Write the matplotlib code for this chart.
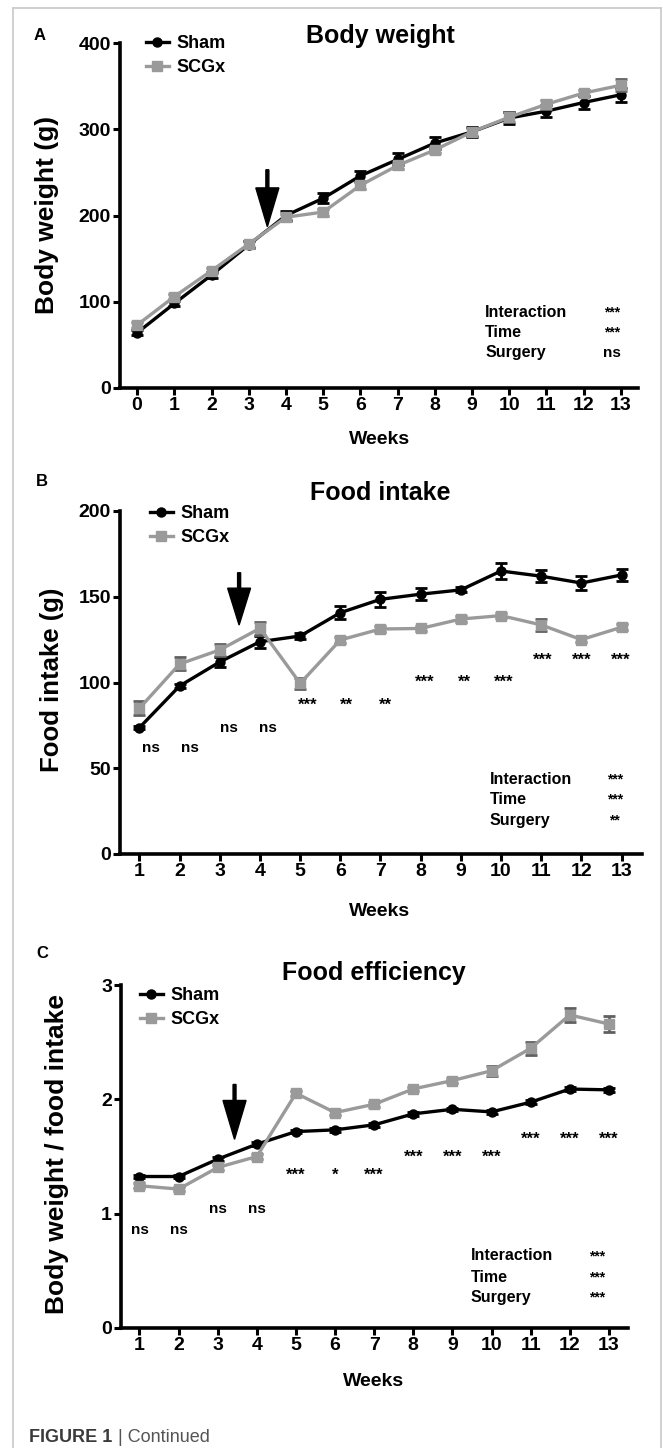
import matplotlib
matplotlib.use("Agg")
import matplotlib.pyplot as plt
from matplotlib.lines import Line2D

plt.rcParams['font.family'] = ['Liberation Sans', 'DejaVu Sans']
plt.rcParams['font.weight'] = 'bold'

# ---- data ----
weeks_a = list(range(0, 14))
bw_sham = [64, 98, 131, 166, 200, 220, 246, 265, 284, 297, 313, 321, 331, 340]
bw_sham_err = [3, 3, 3, 4, 5, 6, 6, 7, 7, 6, 7, 7, 8, 8]
bw_scgx = [73, 106, 136, 167, 198, 204, 235, 258, 276, 297, 314, 329, 342, 351]
bw_scgx_err = [3, 3, 3, 3, 4, 4, 4, 4, 4, 5, 6, 5, 4, 7]

weeks = list(range(1, 14))
fi_sham = [73.7, 98, 112, 123.8, 127.1, 140.7, 148.5, 151.5, 154, 165, 162, 158, 162.7]
fi_sham_err = [1, 1, 2.9, 3.4, 1.5, 3.7, 4.3, 3.5, 1.5, 4.5, 3.5, 4, 3.5]
fi_scgx = [85, 110.8, 119, 131.6, 99.5, 124.8, 131.2, 131.5, 137, 139, 133.6, 125, 132.2]
fi_scgx_err = [4.2, 3.8, 3.7, 3.9, 3.1, 1.5, 1.5, 1.5, 1.5, 1.5, 3.5, 1.5, 1.8]
fi_sig = ['ns', 'ns', 'ns', 'ns', '***', '**', '**', '***', '**', '***', '***', '***', '***']
fi_sig_y = [61.8, 61.8, 73.5, 73.5, 86.5, 86.5, 86.5, 100, 100, 100, 113, 113, 113]

fe_sham = [1.325, 1.325, 1.477, 1.608, 1.718, 1.733, 1.777, 1.873, 1.913, 1.89, 1.975, 2.09, 2.083]
fe_sham_err = [0.015, 0.015, 0.015, 0.015, 0.015, 0.015, 0.015, 0.015, 0.015, 0.015, 0.015, 0.015, 0.015]
fe_scgx = [1.244, 1.215, 1.404, 1.5, 2.053, 1.884, 1.957, 2.091, 2.164, 2.25, 2.446, 2.738, 2.659]
fe_scgx_err = [0.02, 0.02, 0.02, 0.025, 0.02, 0.02, 0.02, 0.02, 0.02, 0.045, 0.058, 0.061, 0.066]
fe_sig = ['ns', 'ns', 'ns', 'ns', '***', '*', '***', '***', '***', '***', '***', '***', '***']
fe_sig_y = [0.86, 0.86, 1.04, 1.04, 1.34, 1.34, 1.34, 1.494, 1.494, 1.494, 1.651, 1.651, 1.651]

stat_names = ['Interaction', 'Time', 'Surgery']
bw_stats = ['***', '***', 'ns']
fi_stats = ['***', '***', '**']
fe_stats = ['***', '***', '***']

GRAY = '#9a9a9a'
W, H = 663, 1448


def fx(x):
    return x / W


def fy(y):
    return 1 - y / H


fig = plt.figure(figsize=(W / 100, H / 100), dpi=100)


def setup(ax, xlim, ylim, yticks, xticks):
    for s in ['top', 'right']:
        ax.spines[s].set_visible(False)
    for s in ['left', 'bottom']:
        ax.spines[s].set_linewidth(2.6)
    ax.set_xlim(*xlim)
    ax.set_ylim(*ylim)
    ax.set_yticks(yticks)
    ax.set_xticks(xticks)
    ax.tick_params(direction='out', length=5, width=2.2, labelsize=14, pad=1.5)


def series(ax, x, s, se, g, ge):
    ax.errorbar(x, s, yerr=se, fmt='-o', color='black', ms=6.5, lw=2.4,
                elinewidth=2, capsize=4, capthick=2, zorder=3, clip_on=False)
    ax.errorbar(x, g, yerr=ge, fmt='-s', color=GRAY, ecolor='#606060', ms=6.5, lw=2.4,
                elinewidth=2, capsize=4, capthick=2, zorder=4, clip_on=False)


def legend(ax, left, top, size=13):
    h = [Line2D([], [], color='black', marker='o', ms=6.5, lw=2.4),
         Line2D([], [], color=GRAY, marker='s', ms=6.5, lw=2.4)]
    ax.legend(h, ['Sham', 'SCGx'], loc='upper left', bbox_to_anchor=(fx(left), fy(top)),
              bbox_transform=fig.transFigure, frameon=False, fontsize=size,
              handlelength=1.25, handletextpad=0.45, labelspacing=0.38,
              borderpad=0, borderaxespad=0)


def stats(ax, xl, xs, ys, vals):
    for n, v, y in zip(stat_names, vals, ys):
        ax.text(xl, y, n, fontsize=11.5, ha='left', va='center')
        ax.text(xs, y, v, fontsize=11 if v == 'ns' else 10, ha='center', va='center')


def arrow(ax, x, top, tip, hw, hl, w):
    ax.arrow(x, top, 0, tip - top, width=w, head_width=hw, head_length=hl,
             length_includes_head=True, color='black', zorder=5)


# ---- panel A ----
axA = fig.add_axes([fx(120), fy(388), (638 - 120) / W, (388 - 43) / H])
setup(axA, (-0.46, 13.46), (0, 400), [0, 100, 200, 300, 400], weeks_a)
series(axA, weeks_a, bw_sham, bw_sham_err, bw_scgx, bw_scgx_err)
legend(axA, 146, 35)
stats(axA, 9.35, 12.76, [87, 64, 40.6], bw_stats)
arrow(axA, 3.5, 253, 187, 0.62, 45, 0.08)
fig.text(fx(40), fy(36), 'A', fontsize=12, ha='center', va='center')
fig.text(fx(380), fy(36), 'Body weight', fontsize=18, ha='center', va='center')
fig.text(fx(47), fy(215), 'Body weight (g)', fontsize=19, rotation=90, ha='center', va='center')
fig.text(fx(380), fy(440), 'Weeks', fontsize=14, ha='center', va='center')

# ---- panel B ----
axB = fig.add_axes([fx(120), fy(854), (642 - 120) / W, (854 - 511) / H])
setup(axB, (0.515, 13.51), (0, 200), [0, 50, 100, 150, 200], weeks)
series(axB, weeks, fi_sham, fi_sham_err, fi_scgx, fi_scgx_err)
legend(axB, 150, 505)
stats(axB, 9.72, 12.83, [43.7, 32, 19.8], fi_stats)
arrow(axB, 3.48, 164, 133.5, 0.57, 21.5, 0.075)
for x, t, y in zip(weeks, fi_sig, fi_sig_y):
    axB.text(x + 0.28 - 0.025 * (x - 1), y, t, fontsize=11 if t == 'ns' else 12,
             ha='center', va='center')
fig.text(fx(42), fy(482), 'B', fontsize=12, ha='center', va='center')
fig.text(fx(380), fy(493), 'Food intake', fontsize=18, ha='center', va='center')
fig.text(fx(52), fy(680), 'Food intake (g)', fontsize=18.5, rotation=90, ha='center', va='center')
fig.text(fx(380), fy(912), 'Weeks', fontsize=14, ha='center', va='center')

# ---- panel C ----
axC = fig.add_axes([fx(121), fy(1328), (628 - 121) / W, (1328 - 985) / H])
setup(axC, (0.527, 13.49), (0, 3), [0, 1, 2, 3], weeks)
series(axC, weeks, fe_sham, fe_sham_err, fe_scgx, fe_scgx_err)
legend(axC, 140, 987)
stats(axC, 9.47, 12.7, [0.63, 0.446, 0.271], fe_stats)
arrow(axC, 3.43, 2.13, 1.65, 0.59, 0.34, 0.075)
for x, t, y in zip(weeks, fe_sig, fe_sig_y):
    axC.text(x, y, t, fontsize=11 if t == 'ns' else 12, ha='center', va='center')
fig.text(fx(42), fy(953), 'C', fontsize=12, ha='center', va='center')
fig.text(fx(374), fy(973), 'Food efficiency', fontsize=18, ha='center', va='center')
fig.text(fx(57), fy(1154), 'Body weight / food intake', fontsize=19, rotation=90,
         ha='center', va='center')
fig.text(fx(374), fy(1381), 'Weeks', fontsize=14, ha='center', va='center')

# caption
fig.text(fx(29), fy(1437), 'FIGURE 1', fontsize=13, color='#3a3a3a', ha='left', va='center')
fig.text(fx(118), fy(1437), '| Continued', fontsize=13, weight='normal', color='#555555',
         ha='left', va='center')

# thin frame
for xs, ys in [([13, 13], [8, 1448]), ([13, 661], [8, 8]), ([661, 661], [8, 1448])]:
    fig.add_artist(Line2D([fx(v) for v in xs], [fy(v) for v in ys], color='#c8c8c8', lw=1.2,
                          transform=fig.transFigure))

fig.savefig('out.png', dpi=100)
